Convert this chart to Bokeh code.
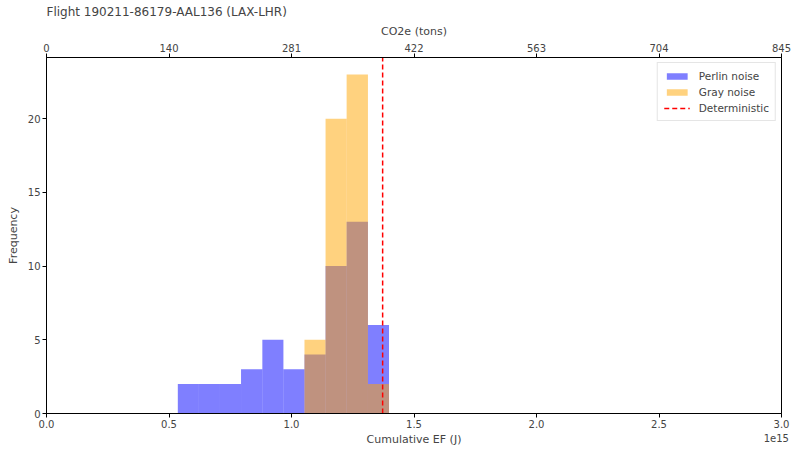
from bokeh.plotting import figure
from bokeh.models import (Range1d, LinearAxis, FixedTicker, Legend, LegendItem)
from bokeh.embed import file_html
from bokeh.resources import INLINE

# ---- data (x in units of 1e15 J) ----
perlin_edges = [0.536, 0.622, 0.708, 0.794, 0.881, 0.967, 1.053, 1.139, 1.225, 1.312, 1.398]
perlin_counts = [2, 2, 2, 3, 5, 3, 4, 10, 13, 6]
gray_edges = [1.053, 1.139, 1.225, 1.312, 1.398]
gray_counts = [5, 20, 23, 2]
deterministic = 1.372

x_ticks = [0.0, 0.5, 1.0, 1.5, 2.0, 2.5, 3.0]
x_tick_labels = ["0.0", "0.5", "1.0", "1.5", "2.0", "2.5", "3.0"]
co2_tick_labels = ["0", "140", "281", "422", "563", "704", "845"]
y_ticks = [0, 5, 10, 15, 20]
offset_text = "1e15"

x_end = 3.0
y_end = 24.15

FONT = "DejaVu Sans"

p = figure(width=791, height=448, output_backend="svg", toolbar_location=None,
           x_range=Range1d(0, x_end), y_range=Range1d(0, y_end),
           min_border_left=46, min_border_right=10, min_border_top=56, min_border_bottom=28,
           title="Flight 190211-86179-AAL136 (LAX-LHR)")
p.title.text_font = FONT
p.title.text_font_size = "12px"
p.title.text_font_style = "normal"
p.title.align = "left"
p.title.standoff = 5

p.grid.visible = False
p.outline_line_color = "black"
p.outline_line_width = 1
p.background_fill_color = "white"
p.border_fill_color = "white"

# bars
r_perlin = p.quad(left=perlin_edges[:-1], right=perlin_edges[1:], bottom=0, top=perlin_counts,
                  fill_color="blue", fill_alpha=0.5, line_color=None)
r_gray = p.quad(left=gray_edges[:-1], right=gray_edges[1:], bottom=0, top=gray_counts,
                fill_color="orange", fill_alpha=0.5, line_color=None)
r_det = p.segment(x0=[deterministic], y0=[0], x1=[deterministic], y1=[y_end],
                  line_color="red", line_width=1.5, line_dash="5 3")

def style_axis(ax):
    ax.major_label_text_font = FONT
    ax.major_label_text_font_size = "10px"
    ax.axis_label_text_font = FONT
    ax.axis_label_text_font_size = "11px"
    ax.axis_label_text_font_style = "normal"
    ax.major_tick_out = 4
    ax.major_tick_in = 0
    ax.minor_tick_line_color = None
    ax.axis_line_color = "black"
    ax.major_tick_line_color = "black"
    ax.major_label_standoff = 2
    ax.axis_label_standoff = 3

# bottom axis: ticks and tick labels only
xa = p.xaxis[0]
xa.ticker = FixedTicker(ticks=x_ticks)
xa.major_label_overrides = {t: l for t, l in zip(x_ticks, x_tick_labels)}
style_axis(xa)

# second bottom axis: offset text "1e15" at the right end and the axis label on the same row
xb = LinearAxis(ticker=FixedTicker(ticks=[x_end]), axis_label="Cumulative EF (J)")
style_axis(xb)
xb.major_label_overrides = {x_end: offset_text}
xb.major_label_text_align = "right"
xb.axis_line_color = None
xb.major_tick_line_color = None
xb.major_tick_out = 0
xb.major_label_standoff = 3
xb.axis_label_standoff = -12
p.add_layout(xb, "below")

# left axis
ya = p.yaxis[0]
ya.ticker = FixedTicker(ticks=y_ticks)
ya.axis_label = "Frequency"
style_axis(ya)
ya.axis_label_standoff = 5

# top axis (CO2e)
top = LinearAxis(ticker=FixedTicker(ticks=x_ticks), axis_label="CO2e (tons)")
top.major_label_overrides = {t: l for t, l in zip(x_ticks, co2_tick_labels)}
style_axis(top)
p.add_layout(top, "above")

legend = Legend(items=[LegendItem(label="Perlin noise", renderers=[r_perlin]),
                       LegendItem(label="Gray noise", renderers=[r_gray]),
                       LegendItem(label="Deterministic", renderers=[r_det])],
                location="top_right")
legend.label_text_font = FONT
legend.label_text_font_size = "10.5px"
legend.border_line_color = "#cccccc"
legend.border_line_width = 1
legend.glyph_width = 26
legend.glyph_height = 8
legend.label_height = 13
legend.spacing = 3
legend.padding = 6
legend.margin = 5
legend.label_standoff = 9
p.add_layout(legend)

open("out.html", "w").write(file_html(p, INLINE))
